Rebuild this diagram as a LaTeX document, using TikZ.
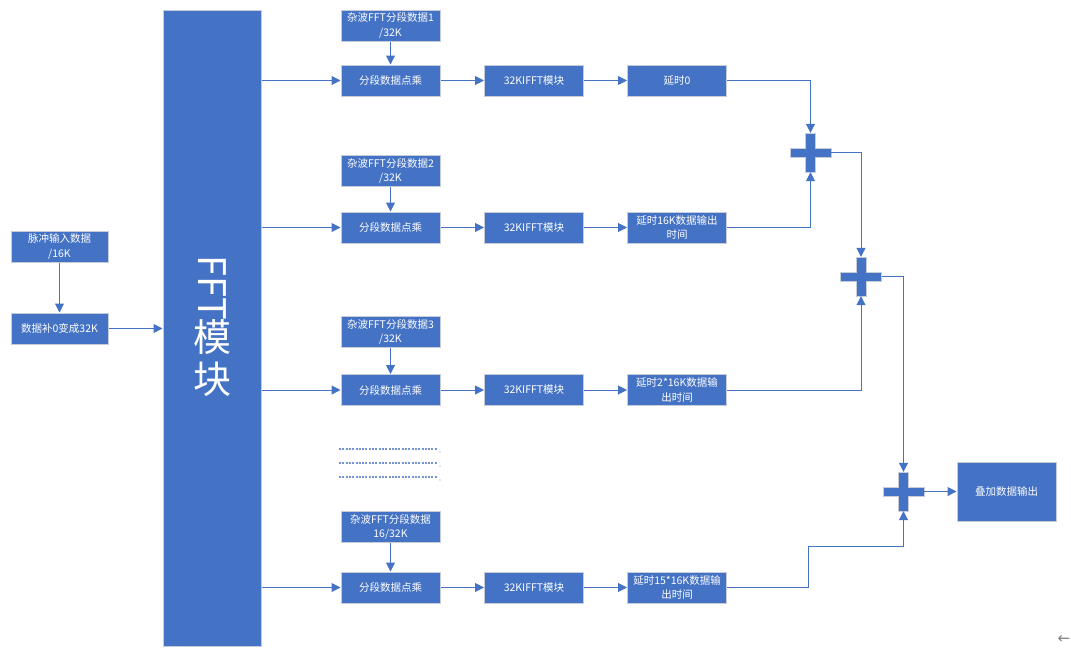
\documentclass[tikz,border=0pt]{standalone}
\usepackage{fontspec}
\setmainfont{Noto Sans CJK SC}
\newfontfamily\dejavu{DejaVu Sans}
\usetikzlibrary{arrows.meta,calc}
\definecolor{boxblue}{HTML}{4472C4}
\definecolor{boxedge}{HTML}{C6CCD8}
\tikzset{
  box/.style={fill=boxblue, draw=boxedge, line width=1pt, text=white, align=center,
    minimum width=99pt, minimum height=31pt, inner sep=1pt,
    font=\fontsize{10.5}{14.5}\selectfont},
  conn/.style={draw=boxblue, line width=1pt, -{Triangle[length=9pt,width=9pt]}},
  plain/.style={draw=boxblue, line width=1pt},
  plusnode/.style={minimum width=41pt, minimum height=39pt, inner sep=0pt},
  crossshape/.style={fill=boxblue, draw=boxedge, line width=1pt},
  dotline/.style={draw=boxblue!75, line width=1.2pt, dash pattern=on 2pt off 1.3pt},
  bigtext/.style={text=white, font=\fontsize{38}{40}\selectfont, inner sep=0pt}
}
\newcommand\crossat[1]{%
  \begin{scope}[shift={(#1.center)}]
    \filldraw[crossshape] (-5,-19.5) -- (5,-19.5) -- (5,-4.5) -- (20.5,-4.5) -- (20.5,4.5)
      -- (5,4.5) -- (5,19.5) -- (-5,19.5) -- (-5,4.5) -- (-20.5,4.5) -- (-20.5,-4.5)
      -- (-5,-4.5) -- cycle;
  \end{scope}}
\begin{document}
\begin{tikzpicture}[x=1pt,y=-1pt]
\useasboundingbox (0,0) rectangle (1071,651);

% FFT module
\node[box, minimum width=98pt, minimum height=636pt] (fft) at (212,328) {};
\node[bigtext, rotate=-90] (fftt) at (212,288) {FFT};
\node[bigtext] (mo) at (212,337) {模};
\node[bigtext] (kuai) at (212,379) {块};

% input
\node[box, minimum width=97pt] (pulse) at (59.5,246.5) {脉冲输入数据\\/16K};
\node[box, minimum width=97pt] (pad) at (59.5,328.5) {数据补0变成32K};

% row 1
\node[box] (noise1) at (390.5,25.5) {杂波FFT分段数据1\\/32K};
\node[box] (mul1) at (390.5,80.5) {分段数据点乘};
\node[box] (ifft1) at (534,80.5) {32KIFFT模块};
\node[box] (del1) at (677,80.5) {延时0};

% row 2
\node[box] (noise2) at (390.5,171) {杂波FFT分段数据2\\/32K};
\node[box] (mul2) at (390.5,227.5) {分段数据点乘};
\node[box] (ifft2) at (534,227.5) {32KIFFT模块};
\node[box] (del2) at (677,227.5) {延时16K数据输出\\时间};

% row 3
\node[box] (noise3) at (390.5,332) {杂波FFT分段数据3\\/32K};
\node[box] (mul3) at (390.5,390) {分段数据点乘};
\node[box] (ifft3) at (534,390) {32KIFFT模块};
\node[box] (del3) at (677,390) {延时2*16K数据输\\出时间};

% row 16
\node[box] (noise4) at (390.5,527) {杂波FFT分段数据\\16/32K};
\node[box] (mul4) at (390.5,587.5) {分段数据点乘};
\node[box] (ifft4) at (534,587.5) {32KIFFT模块};
\node[box] (del4) at (677,587.5) {延时15*16K数据输\\出时间};

% adders
\node[plusnode] (p1) at (810.5,152.5) {};
\node[plusnode] (p2) at (861,276.5) {};
\node[plusnode] (p3) at (903.5,491.5) {};
\crossat{p1}
\crossat{p2}
\crossat{p3}

\node[box, minimum height=59pt] (out) at (1006.5,491.5) {叠加数据输出};

% connectors
\draw[conn] (pulse.south) -- (pad.north);
\draw[conn] (pad.east) -- (pad.east -| fft.west);
\foreach \i in {1,2,3,4}{
  \draw[conn] (mul\i.west -| fft.east) -- (mul\i.west);
  \draw[conn] (noise\i.south) -- (mul\i.north);
  \draw[conn] (mul\i.east) -- (ifft\i.west);
  \draw[conn] (ifft\i.east) -- (del\i.west);
}
\draw[conn] (del1.east) -| (p1.north);
\draw[conn] (del2.east) -| (p1.south);
\draw[conn] (p1.east) -| (p2.north);
\draw[conn] (del3.east) -| (p2.south);
\draw[conn] (p2.east) -| (p3.north);
\coordinate (c4) at (808,546);
\draw[conn] (del4.east) -| (c4) -| (p3.south);
\draw[conn] (p3.east) -- (out.west);

% ellipsis lines
\foreach \yy in {449,463,477}{
  \draw[dotline] (339,\yy) -- (437,\yy);
  \fill[boxblue!75] (440,\yy+3) circle (0.7pt);
}

% corner mark
\node[text=gray, font=\dejavu\fontsize{15}{15}\selectfont] (back) at (1064,640) {←};
\end{tikzpicture}
\end{document}
